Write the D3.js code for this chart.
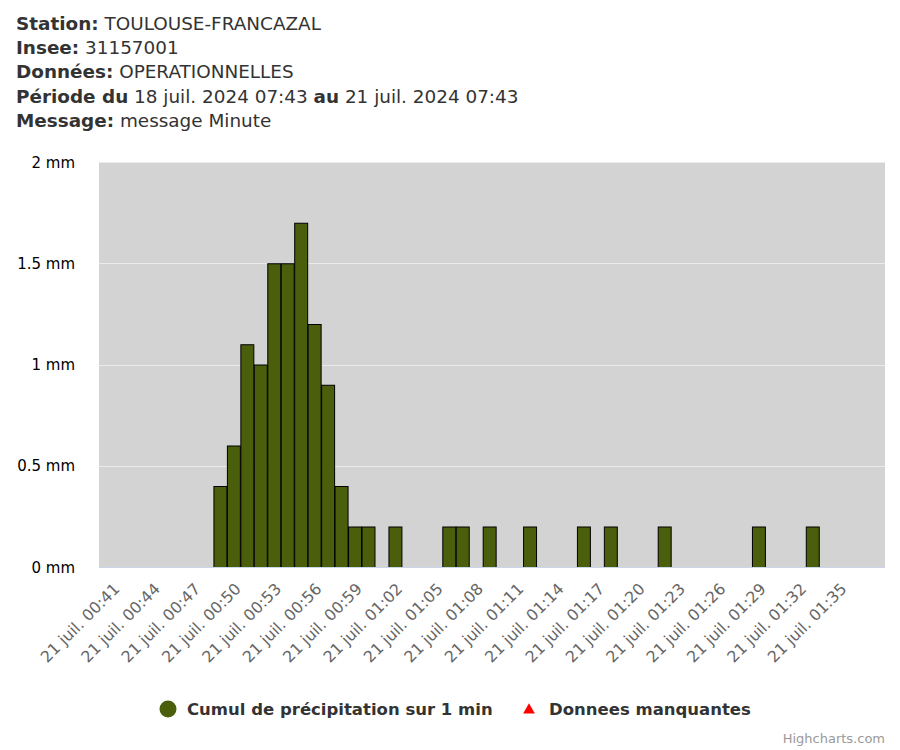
<!DOCTYPE html>
<html><head><meta charset="utf-8">
<script src="https://cdn.jsdelivr.net/npm/d3@7"></script>
<style>body{margin:0;background:#fff} svg text{font-family:"DejaVu Sans",Verdana,sans-serif}</style>
</head><body><svg id="c" width="900" height="750"></svg>
<script>
// ---- data ----
const minutes = ["00:48","00:49","00:50","00:51","00:52","00:53","00:54","00:55","00:56","00:57","00:58","00:59","01:01","01:05","01:06","01:08","01:11","01:15","01:17","01:21","01:28","01:32"];
const values  = [0.4,0.6,1.1,1.0,1.5,1.5,1.7,1.2,0.9,0.4,0.2,0.2,0.2,0.2,0.2,0.2,0.2,0.2,0.2,0.2,0.2,0.2];
const tickLabels = ["00:41","00:44","00:47","00:50","00:53","00:56","00:59","01:02","01:05","01:08","01:11","01:14","01:17","01:20","01:23","01:26","01:29","01:32","01:35"];
const dayLabel = "21 juil.";
const yTicks = [0, 0.5, 1, 1.5, 2];
const axisStart = "00:39:30", axisEnd = "01:37:53";
const headerLines = [
  ["Station:", " TOULOUSE-FRANCAZAL"],
  ["Insee:", " 31157001"],
  ["Données:", " OPERATIONNELLES"],
  ["Période du", " 18 juil. 2024 07:43 ", "au", " 21 juil. 2024 07:43"],
  ["Message:", " message Minute"]
];
const seriesNames = ["Cumul de précipitation sur 1 min", "Donnees manquantes"];

// ---- layout ----
const svg = d3.select("#c");
const plot = {left: 99, right: 885, top: 162, bottom: 567};
const parseHM = d3.timeParse("%H:%M"), parseHMS = d3.timeParse("%H:%M:%S");
const x = d3.scaleTime().domain([parseHMS(axisStart), parseHMS(axisEnd)]).range([plot.left, plot.right]);
const y = d3.scaleLinear().domain([0, 2]).range([plot.bottom, plot.top]);
const barColor = "#4a5e0b";

// header
headerLines.forEach((parts, i) => {
  const t = svg.append("text").attr("x", 16).attr("y", 30 + i * 24.2)
    .attr("font-size", 18.4).attr("fill", "#333");
  parts.forEach((p, j) => t.append("tspan").attr("font-weight", j % 2 === 0 ? "bold" : "normal").text(p));
});

// plot bg
svg.append("rect").attr("x", plot.left).attr("y", plot.top)
  .attr("width", plot.right - plot.left).attr("height", plot.bottom - plot.top).attr("fill", "#d3d3d3");

// grid
svg.append("g").selectAll("line").data(yTicks.filter(d => d > 0)).join("line")
  .attr("x1", plot.left).attr("x2", plot.right)
  .attr("y1", d => Math.round(y(d)) + 0.5).attr("y2", d => Math.round(y(d)) + 0.5)
  .attr("stroke", "#ebebeb").attr("stroke-width", 1);

// y labels
svg.append("g").selectAll("text").data(yTicks).join("text")
  .attr("x", 75).attr("y", d => y(d) + 5.5).attr("text-anchor", "end")
  .attr("font-size", 15).attr("fill", "#000").text(d => d + " mm");

// bars
const step = x(parseHM("00:49")) - x(parseHM("00:48"));
svg.append("g").selectAll("rect").data(minutes.map((m, i) => ({t: parseHM(m), v: values[i]}))).join("rect")
  .attr("x", d => x(d.t) + 0.5)
  .attr("width", step - 0.5)
  .attr("y", d => y(d.v) + 0.5)
  .attr("height", d => y(0) - y(d.v))
  .attr("fill", barColor).attr("stroke", "#000").attr("stroke-width", 1);

// x axis line
svg.append("line").attr("x1", plot.left).attr("x2", plot.right)
  .attr("y1", plot.bottom + 0.5).attr("y2", plot.bottom + 0.5).attr("stroke", "#ccd6eb");

// x labels
svg.append("g").selectAll("text").data(tickLabels).join("text")
  .attr("transform", d => `translate(${x(parseHM(d)) + 1.5},${plot.bottom + 23}) rotate(-45)`)
  .attr("text-anchor", "end").attr("font-size", 15.8).attr("fill", "#666")
  .text(d => dayLabel + " " + d);

// legend
const lg = svg.append("g");
lg.append("circle").attr("cx", 168).attr("cy", 709).attr("r", 8.5).attr("fill", barColor);
lg.append("text").attr("x", 187).attr("y", 715).attr("font-size", 16.5).attr("font-weight", "bold").attr("fill", "#333").text(seriesNames[0]);
lg.append("path").attr("d", d3.symbol(d3.symbolTriangle, 60)()).attr("transform", "translate(529,710)").attr("fill", "#ff0000");
lg.append("text").attr("x", 549).attr("y", 715).attr("font-size", 16.5).attr("font-weight", "bold").attr("fill", "#333").text(seriesNames[1]);

// credits
svg.append("text").attr("x", 885).attr("y", 743).attr("text-anchor", "end")
  .attr("font-size", 13).attr("fill", "#999").text("Highcharts.com");
</script></body></html>
